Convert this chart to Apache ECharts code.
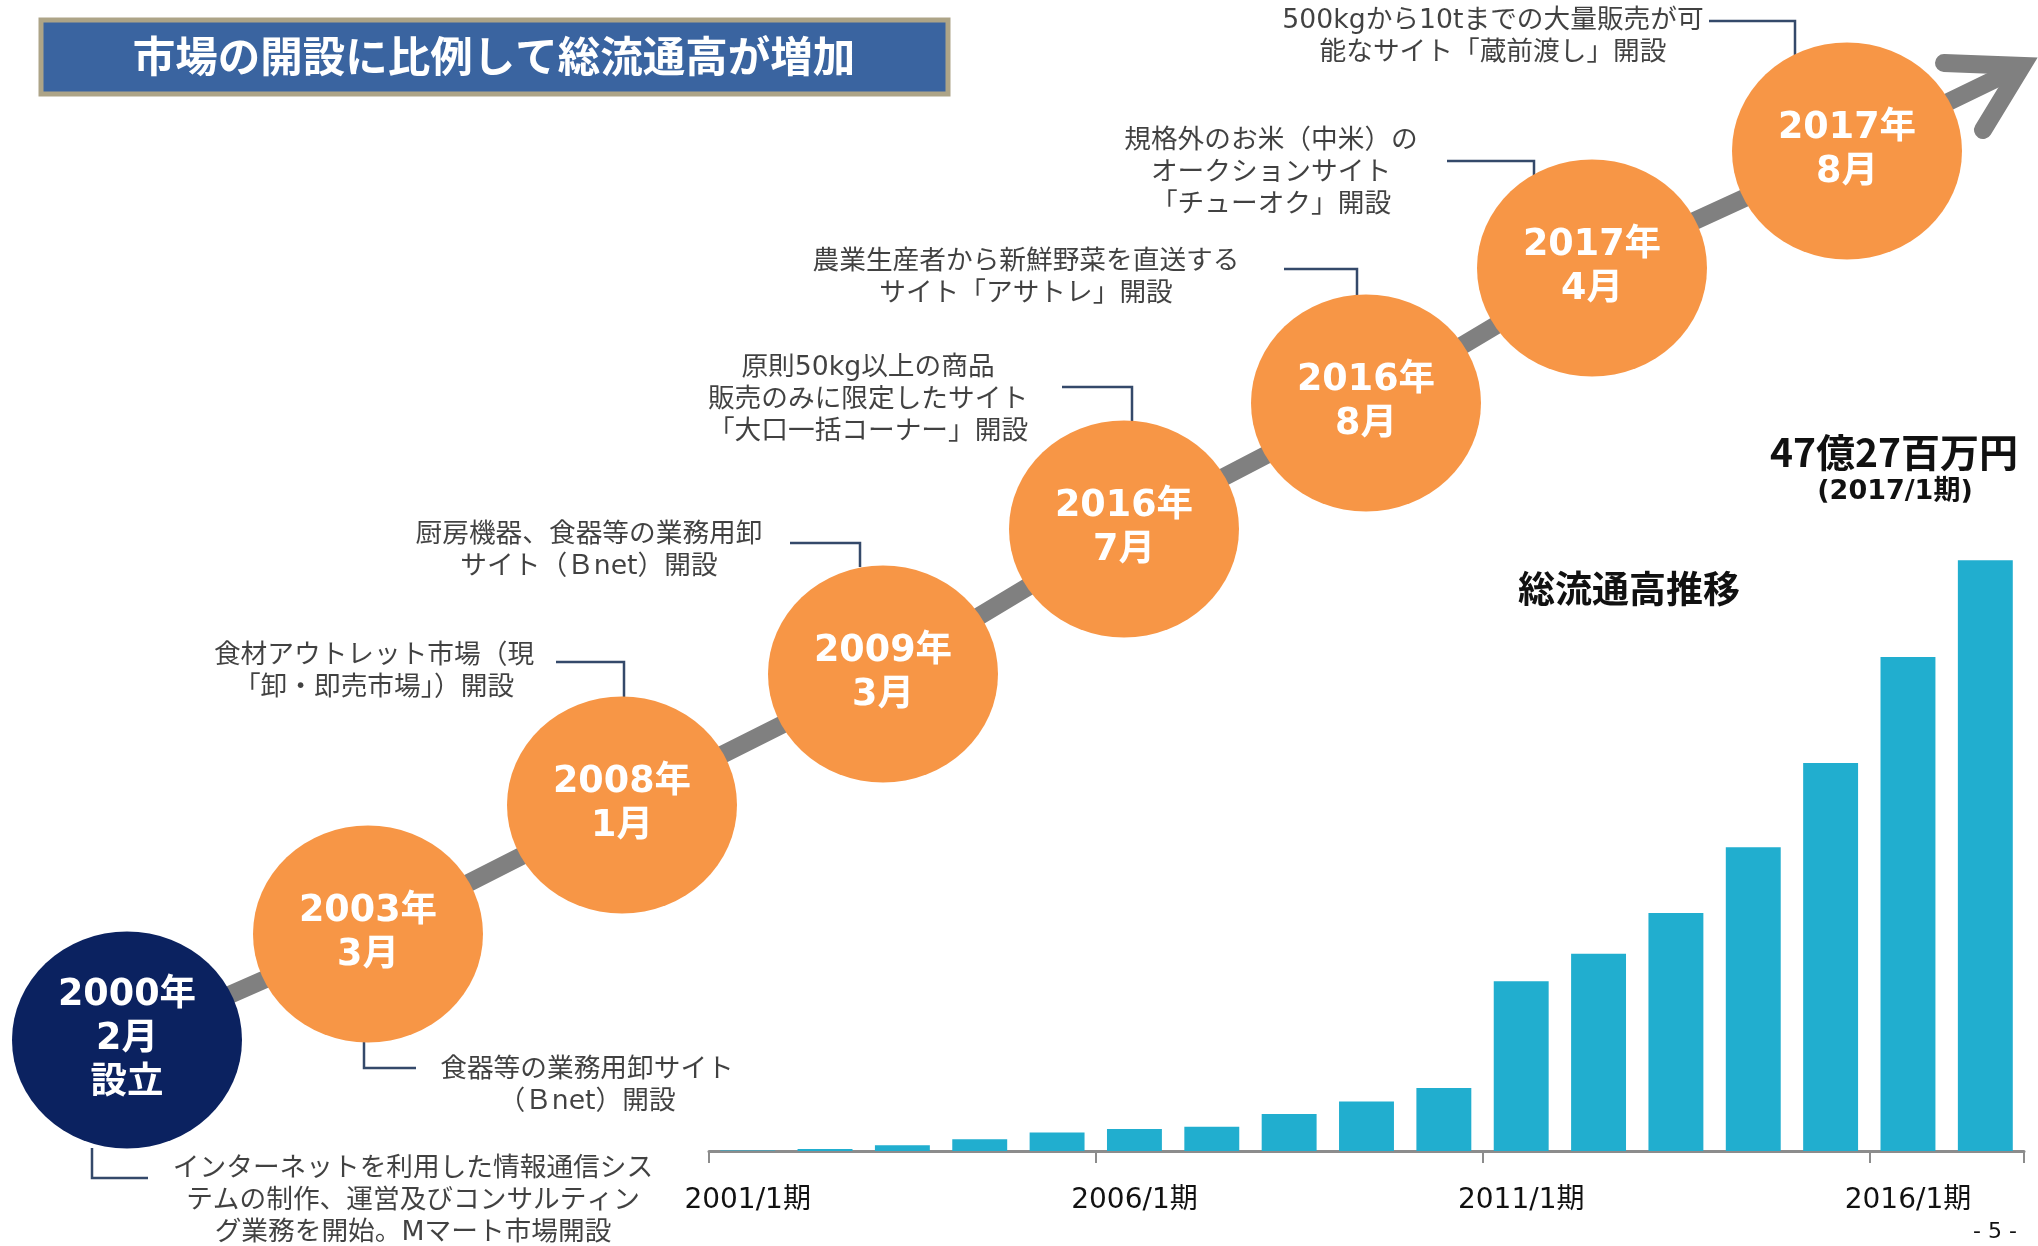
<!DOCTYPE html>
<html lang="ja">
<head>
<meta charset="utf-8">
<title>総流通高推移</title>
<script src="https://cdn.jsdelivr.net/npm/echarts@6/dist/echarts.min.js"></script>
<style>
  html, body { margin: 0; padding: 0; background: #fff; }
  #chart { width: 2038px; height: 1246px; }
</style>
</head>
<body>
<div id="chart"></div>
<script>
// 総流通高（億円）
const periods = [
  "2001/1期", "2002/1期", "2003/1期", "2004/1期", "2005/1期", "2006/1期",
  "2007/1期", "2008/1期", "2009/1期", "2010/1期", "2011/1期", "2012/1期",
  "2013/1期", "2014/1期", "2015/1期", "2016/1期", "2017/1期",
];
const totalSales = [
  0.05, 0.16, 0.46, 0.95, 1.49, 1.76, 1.94, 2.97, 3.97, 5.05,
  13.58, 15.79, 19.04, 24.31, 31.04, 39.53, 47.27,
];

// 沿革
const eventDates = [
  "2000年\n2月\n設立", "2003年\n3月", "2008年\n1月", "2009年\n3月",
  "2016年\n7月", "2016年\n8月", "2017年\n4月", "2017年\n8月",
];
const eventNotes = [
  "インターネットを利用した情報通信シス\nテムの制作、運営及びコンサルティン\nグ業務を開始。Mマート市場開設",
  "食器等の業務用卸サイト\n（Ｂnet）開設",
  "食材アウトレット市場（現\n「卸・即売市場」）開設",
  "厨房機器、食器等の業務用卸\nサイト（Ｂnet）開設",
  "原則50kg以上の商品\n販売のみに限定したサイト\n「大口一括コーナー」開設",
  "農業生産者から新鮮野菜を直送する\nサイト「アサトレ」開設",
  "規格外のお米（中米）の\nオークションサイト\n「チューオク」開設",
  "500kgから10tまでの大量販売が可\n能なサイト「蔵前渡し」開設",
];

// layout of the timeline overlay (page pixels)
const nodeX = [127, 368, 622, 883, 1124, 1366, 1592, 1847];
const nodeY = [1040, 934, 805, 674, 529, 403, 268, 151];
const noteX = [413, 587, 374, 589, 868, 1026, 1271, 1493];
const noteY = [1201, 1086, 672, 551, 400, 278, 173, 37];
const connectors = [
  [[148, 1178], [92, 1178], [92, 1148]],
  [[416, 1068], [364, 1068], [364, 1040]],
  [[556, 662], [624, 662], [624, 697]],
  [[790, 543], [860, 543], [860, 567]],
  [[1062, 387], [1132, 387], [1132, 422]],
  [[1284, 269], [1357, 269], [1357, 295]],
  [[1447, 161], [1534, 161], [1534, 177]],
  [[1709, 21], [1795, 21], [1795, 55]],
];
const arrowHead = [[1944, 63], [2022, 66], [1983, 130]];
const shaftEnd = [2008, 73];

const jp = "'Noto Sans CJK JP', sans-serif";
const latin = "'DejaVu Sans', 'Noto Sans CJK JP', sans-serif";

const chart = echarts.init(document.getElementById("chart"));

const option = {
  animation: false,
  backgroundColor: "#fff",
  grid: [
    { left: 709, right: 14, top: 526, bottom: 95 },
    { left: 0, right: 0, top: 0, bottom: 0 },
  ],
  xAxis: [
    {
      type: "category",
      gridIndex: 0,
      data: periods,
      axisLine: { lineStyle: { color: "#8c8c8c", width: 3 } },
      axisTick: { show: true, interval: 4, length: 12, lineStyle: { color: "#8c8c8c", width: 2 } },
      axisLabel: { interval: 4, margin: 36, color: "#111", fontSize: 28, fontFamily: latin },
      z: 2,
    },
    { type: "value", gridIndex: 1, min: 0, max: 2038, show: false },
  ],
  yAxis: [
    { type: "value", gridIndex: 0, min: 0, max: 50, show: false },
    { type: "value", gridIndex: 1, min: 0, max: 1246, inverse: true, show: false },
  ],
  graphic: [
    {
      type: "rect",
      shape: { x: 41, y: 20, width: 907, height: 74 },
      style: { fill: "#3A64A0", stroke: "#ADA487", lineWidth: 5 },
    },
    {
      type: "text", x: 494, y: 56,
      style: {
        text: "市場の開設に比例して総流通高が増加", fill: "#fff",
        fontSize: 42.5, fontWeight: "bold", fontFamily: jp,
        align: "center", verticalAlign: "middle",
      },
    },
    {
      type: "text", x: 1894, y: 452,
      style: {
        text: "47億27百万円", fill: "#111", fontSize: 39, fontWeight: "bold", fontFamily: jp,
        align: "center", verticalAlign: "middle",
      },
    },
    {
      type: "text", x: 1895, y: 492,
      style: {
        text: "(2017/1期)", fill: "#111", fontSize: 27, fontWeight: "bold", fontFamily: latin,
        align: "center", verticalAlign: "middle",
      },
    },
    {
      type: "text", x: 1629, y: 589,
      style: {
        text: "総流通高推移", fill: "#111", fontSize: 37, fontWeight: "bold", fontFamily: jp,
        align: "center", verticalAlign: "middle",
      },
    },
    {
      type: "text", x: 1995, y: 1232,
      style: {
        text: "- 5 -", fill: "#111", fontSize: 22, fontFamily: latin,
        align: "center", verticalAlign: "middle",
      },
    },
  ],
  series: [
    {
      name: "総流通高",
      type: "bar",
      xAxisIndex: 0,
      yAxisIndex: 0,
      data: totalSales,
      barCategoryGap: "29%",
      itemStyle: { color: "#21AECF" },
      silent: true,
    },
    {
      name: "shaft",
      type: "line",
      xAxisIndex: 1,
      yAxisIndex: 1,
      data: nodeX.map((x, i) => [x, nodeY[i]]).concat([shaftEnd]),
      symbol: "none",
      lineStyle: { color: "#808080", width: 18, cap: "butt" },
      silent: true,
      z: 3,
    },
    {
      name: "arrow",
      type: "line",
      xAxisIndex: 1,
      yAxisIndex: 1,
      data: arrowHead,
      symbol: "none",
      lineStyle: { color: "#808080", width: 18, cap: "round", join: "miter" },
      silent: true,
      z: 3,
    },
    {
      name: "connectors",
      type: "lines",
      coordinateSystem: "cartesian2d",
      xAxisIndex: 1,
      yAxisIndex: 1,
      polyline: true,
      data: connectors.map((c) => ({ coords: c })),
      lineStyle: { color: "#34496A", width: 2.5, opacity: 1 },
      silent: true,
      z: 4,
    },
    {
      name: "events",
      type: "scatter",
      xAxisIndex: 1,
      yAxisIndex: 1,
      data: eventDates.map((d, i) => ({
        value: [nodeX[i], nodeY[i]],
        itemStyle: { color: i === 0 ? "#0B2260" : "#F79646" },
      })),
      symbol: "circle",
      symbolSize: [230, 217],
      label: {
        show: true,
        position: "inside",
        formatter: (p) => eventDates[p.dataIndex],
        color: "#fff",
        fontSize: 36.5,
        fontWeight: "bold",
        fontFamily: latin,
        lineHeight: 44,
        align: "center",
      },
      itemStyle: { opacity: 1 },
      silent: true,
      z: 5,
    },
    {
      name: "notes",
      type: "scatter",
      xAxisIndex: 1,
      yAxisIndex: 1,
      data: noteX.map((x, i) => [x, noteY[i]]),
      symbolSize: 1,
      itemStyle: { color: "rgba(0,0,0,0)" },
      label: {
        show: true,
        position: "inside",
        formatter: (p) => eventNotes[p.dataIndex],
        color: "#111",
        fontSize: 26.7,
        fontFamily: latin,
        lineHeight: 32,
        align: "center",
      },
      silent: true,
      z: 6,
    },
  ],
};

chart.setOption(option);
</script>
</body>
</html>
